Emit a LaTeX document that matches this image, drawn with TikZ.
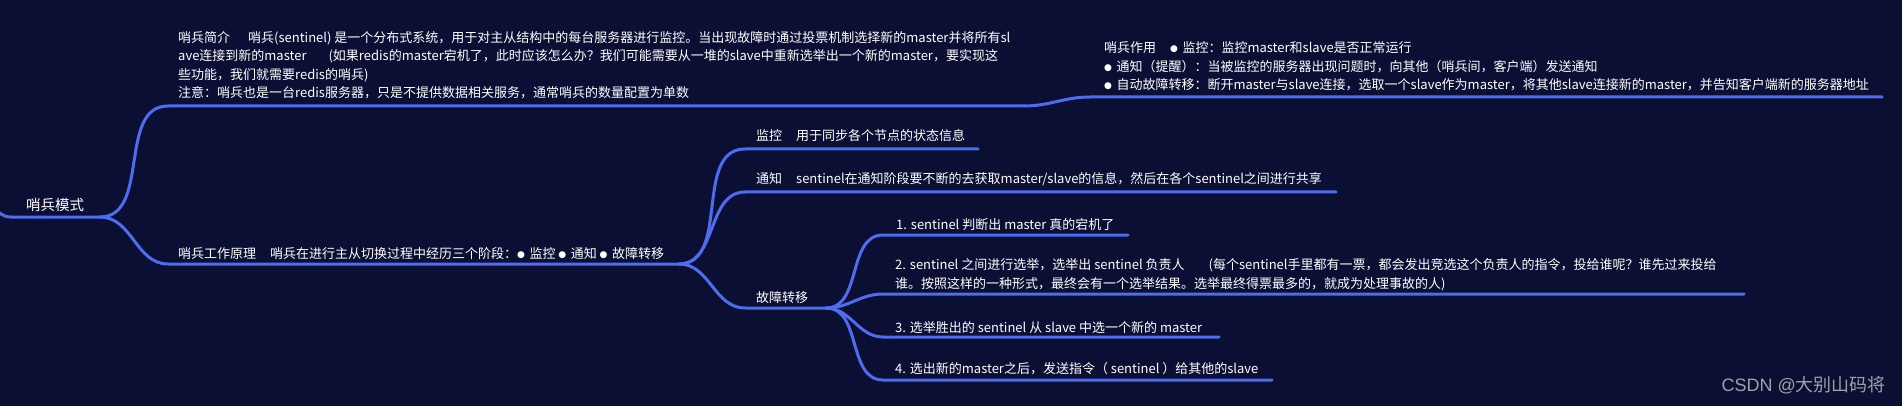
\documentclass[tikz,border=0pt]{standalone}
\usepackage{fontspec}
\setmainfont{Noto Sans CJK SC}
\newfontfamily\bulletfont{DejaVu Sans}
\newfontfamily\wmlatin{Liberation Sans}
\definecolor{bg}{RGB}{11,15,51}
\definecolor{branch}{RGB}{78,108,240}
\definecolor{wmark}{RGB}{160,160,168}
\newcommand{\bul}{\raisebox{1pt}{\bulletfont\fontsize{9}{9}\selectfont ●}\hspace{4.5pt}}
\begin{document}
\begin{tikzpicture}[x=1pt,y=-1pt,
  txt/.style={text=white, inner sep=0pt, anchor=base west, align=left, font=\fontsize{13}{18.6}\selectfont},
  conn/.style={draw=branch, line width=3pt, line cap=round},
]
\fill[bg] (0,0) rectangle (1902,406);
\clip (0,0) rectangle (1902,406);

% coordinates of underlines
\coordinate (off) at (-35,140);
\coordinate (root-s) at (11,217);   \coordinate (root-e) at (100,217);
\coordinate (jj-s) at (168,106);    \coordinate (jj-e) at (1024,106);
\coordinate (zy-s) at (1090,97);    \coordinate (zy-e) at (1882,97);
\coordinate (yl-s) at (168,264);    \coordinate (yl-e) at (679,264);
\coordinate (jk-s) at (745,149);    \coordinate (jk-e) at (978,149);
\coordinate (tz-s) at (745,192);    \coordinate (tz-e) at (1336,192);
\coordinate (gz-s) at (745,308);    \coordinate (gz-e) at (826,308);
\coordinate (i1-s) at (883,235);    \coordinate (i1-e) at (1128,235);
\coordinate (i2-s) at (883,294);    \coordinate (i2-e) at (1744,294);
\coordinate (i3-s) at (883,337);    \coordinate (i3-e) at (1219,337);
\coordinate (i4-s) at (883,380);    \coordinate (i4-e) at (1272,380);

% texts (multi-line nodes are placed by the baseline of their last line)
\node[txt, font=\fontsize{14.5}{18}\selectfont] (root) at (26,210) {哨兵模式};
\node[txt] (jj) at (178,98) {哨兵简介\hspace{18pt}哨兵(sentinel) 是一个分布式系统，用于对主从结构中的每台服务器进行监控。当出现故障时通过投票机制选择新的master并将所有sl\\ave连接到新的master\hspace{22pt}(如果redis的master宕机了，此时应该怎么办？我们可能需要从一堆的slave中重新选举出一个新的master，要实现这\\些功能，我们就需要redis的哨兵)\\注意：哨兵也是一台redis服务器，只是不提供数据相关服务，通常哨兵的数量配置为单数};
\node[txt] (zy) at (1104,90) {哨兵作用\hspace{14pt}\bul 监控：监控master和slave是否正常运行\\\bul 通知（提醒）：当被监控的服务器出现问题时，向其他（哨兵间，客户端）发送通知\\\bul 自动故障转移：断开master与slave连接，选取一个slave作为master，将其他slave连接新的master，并告知客户端新的服务器地址};
\node[txt] (yl) at (178,258) {哨兵工作原理\hspace{14pt}哨兵在进行主从切换过程中经历三个阶段：\bul 监控 \bul 通知 \bul 故障转移};
\node[txt] (jk) at (756,141) {监控\hspace{14pt}用于同步各个节点的状态信息};
\node[txt] (tz) at (756,184) {通知\hspace{14pt}sentinel在通知阶段要不断的去获取master/slave的信息，然后在各个sentinel之间进行共享};
\node[txt] (gz) at (756,302) {故障转移};
\node[txt] (i1) at (896,229) {1. sentinel 判断出 master 真的宕机了};
\node[txt] (i2) at (895,288) {2. sentinel 之间进行选举，选举出 sentinel 负责人\hspace{24pt}(每个sentinel手里都有一票，都会发出竞选这个负责人的指令，投给谁呢？谁先过来投给\\谁。按照这样的一种形式，最终会有一个选举结果。选举最终得票最多的，就成为处理事故的人)};
\node[txt] (i3) at (895,332) {3. 选举胜出的 sentinel 从 slave 中选一个新的 master};
\node[txt] (i4) at (895,373) {4. 选出新的master之后，发送指令（ sentinel ）给其他的slave};
\node[text=wmark, inner sep=0pt, anchor=east, font=\fontsize{18}{18}\selectfont] (wm) at (1886,385) {{\wmlatin CSDN @}大别山码将};

% connectors and underlines
\draw[conn] (off) to[out=0,in=180] (root-s) -- (root-e);
\draw[conn] (root-e) to[out=0,in=180] (jj-s) -- (jj-e);
\draw[conn] (jj-e) to[out=0,in=180] (zy-s) -- (zy-e);
\draw[conn] (root-e) to[out=0,in=180] (yl-s) -- (yl-e);
\draw[conn] (yl-e) to[out=0,in=180] (jk-s) -- (jk-e);
\draw[conn] (yl-e) to[out=0,in=180] (tz-s) -- (tz-e);
\draw[conn] (yl-e) to[out=0,in=180] (gz-s) -- (gz-e);
\draw[conn] (gz-e) to[out=0,in=180] (i1-s) -- (i1-e);
\draw[conn] (gz-e) to[out=0,in=180] (i2-s) -- (i2-e);
\draw[conn] (gz-e) to[out=0,in=180] (i3-s) -- (i3-e);
\draw[conn] (gz-e) to[out=0,in=180] (i4-s) -- (i4-e);
\end{tikzpicture}
\end{document}
